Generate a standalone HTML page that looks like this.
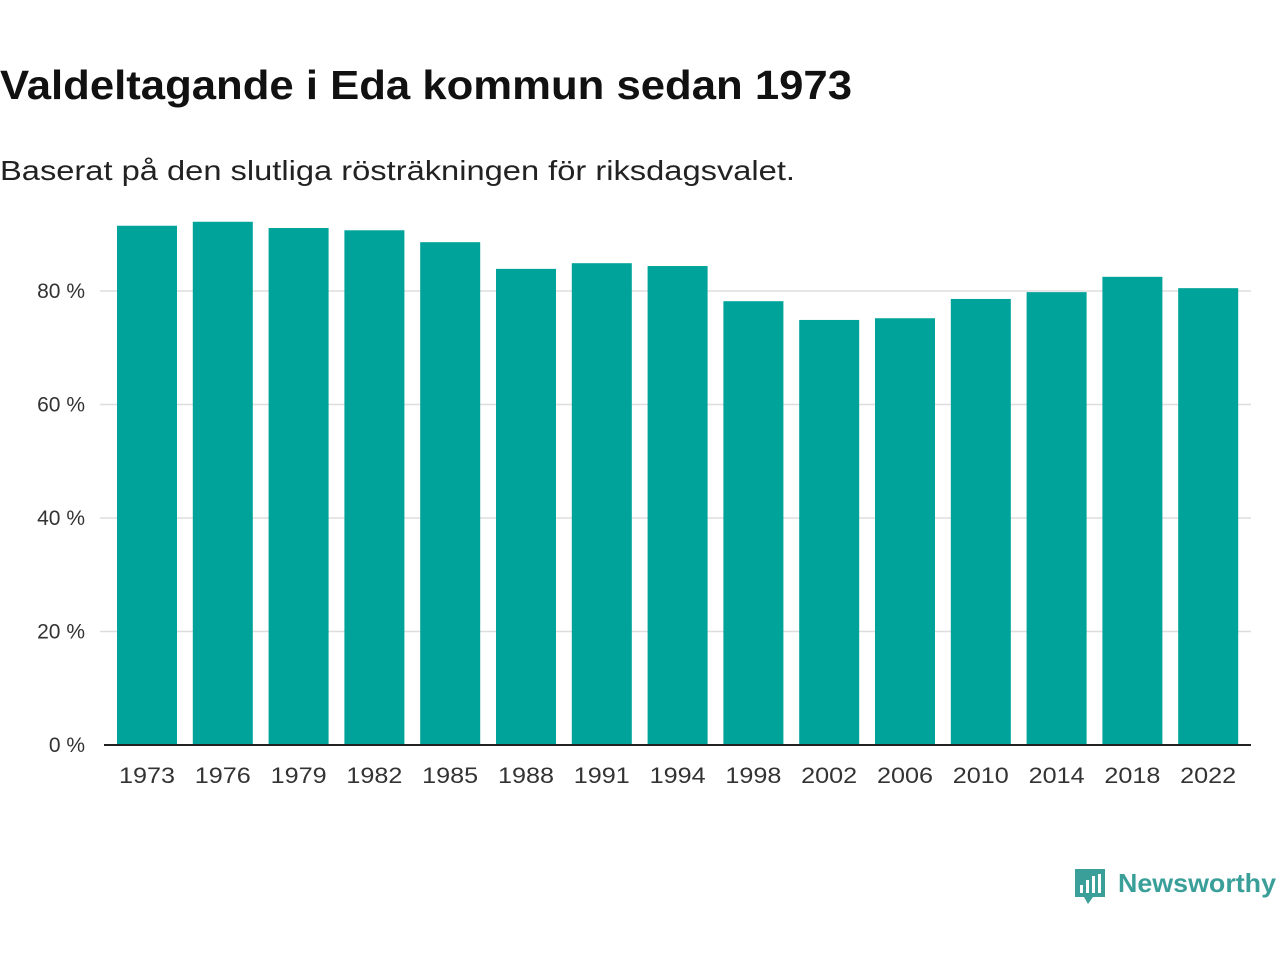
<!DOCTYPE html>
<html><head><meta charset="utf-8"><style>
body{margin:0;width:1280px;height:960px;background:#fff;font-family:"Liberation Sans",sans-serif;overflow:hidden}
</style></head><body>
<svg width="1280" height="960">
<text x="0" y="99" font-size="41" font-weight="bold" fill="#111" textLength="852" lengthAdjust="spacingAndGlyphs">Valdeltagande i Eda kommun sedan 1973</text>
<text x="0" y="180" font-size="28" fill="#222" textLength="795" lengthAdjust="spacingAndGlyphs">Baserat på den slutliga rösträkningen för riksdagsvalet.</text>
<g id="grid"></g><g id="bars"></g><g id="xl"></g>
<line x1="104" y1="745" x2="1251" y2="745" stroke="#222" stroke-width="2"/>
<g>
<path d="M1075 869h30v28h-12l-5 7-4-7h-9z" fill="#3a9f99"/>
<rect x="1080" y="885" width="3" height="8" fill="#fff"/><rect x="1086" y="880" width="3" height="13" fill="#fff"/><rect x="1092" y="876" width="3" height="17" fill="#fff"/><rect x="1098" y="874" width="3" height="19" fill="#fff"/>
<text x="1118" y="892" font-size="26" font-weight="bold" fill="#3a9f99" textLength="158" lengthAdjust="spacingAndGlyphs">Newsworthy</text>
</g>
</svg>
<script>
const years=["1973","1976","1979","1982","1985","1988","1991","1994","1998","2002","2006","2010","2014","2018","2022"];
const turnout=[91.5,92.2,91.1,90.7,88.6,83.9,84.9,84.4,78.2,74.9,75.2,78.6,79.8,82.5,80.5];
const ticks=[0,20,40,60,80];
const ns="http://www.w3.org/2000/svg";
const y=v=>745-v*5.675;
const x=i=>117+i*75.8;
const g=document.getElementById('grid'),b=document.getElementById('bars'),xl=document.getElementById('xl');
ticks.forEach(t=>{
 if(t>0){const l=document.createElementNS(ns,'line');l.setAttribute('x1',100);l.setAttribute('x2',1251);l.setAttribute('y1',y(t));l.setAttribute('y2',y(t));l.setAttribute('stroke','#ddd');l.setAttribute('stroke-width','1.5');
 
 g.appendChild(l);}
 const tx=document.createElementNS(ns,'text');tx.setAttribute('x',85);tx.setAttribute('y',y(t)+7);tx.setAttribute('text-anchor','end');tx.setAttribute('font-size','21');tx.setAttribute('fill','#333');tx.textContent=t+' %';
 
 g.appendChild(tx);
});
years.forEach((yr,i)=>{
 const r=document.createElementNS(ns,'rect');r.setAttribute('x',x(i));r.setAttribute('width',60);r.setAttribute('y',y(turnout[i]));r.setAttribute('height',745-y(turnout[i]));r.setAttribute('fill','#00a39a');
 
 b.appendChild(r);
 const t=document.createElementNS(ns,'text');t.setAttribute('x',x(i)+30);t.setAttribute('y',783);t.setAttribute('text-anchor','middle');t.setAttribute('font-size','22');t.setAttribute('fill','#333');t.setAttribute('textLength','56');t.setAttribute('lengthAdjust','spacingAndGlyphs');t.textContent=yr;
 
 xl.appendChild(t);
});
</script>
</body></html>
